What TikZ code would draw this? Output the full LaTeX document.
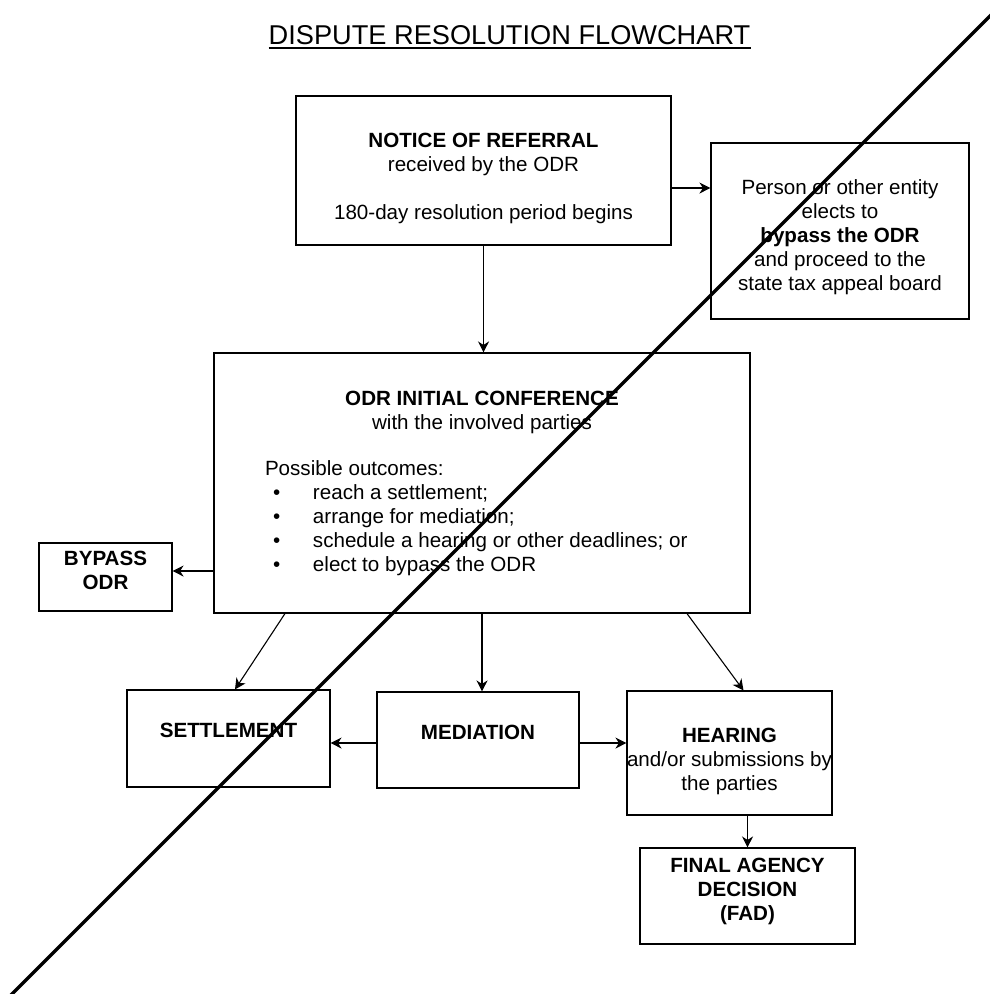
\documentclass[tikz,border=0pt]{standalone}
\usepackage{fontspec}
\setmainfont{Liberation Sans}
\usepackage{tikz}
\usetikzlibrary{arrows.meta,positioning}

\newcommand{\outcomeitem}{\makebox[48pt][l]{\hspace{8pt}\textbullet}}
\newcommand{\topgap}[1]{\rule{0pt}{#1}}
\newcommand{\bottomgap}[1]{\rule[-#1]{0pt}{0pt}}

\begin{document}
\begin{tikzpicture}[x=1pt,y=-1pt,
				>={Stealth[length=11pt,width=11pt,inset=3.5pt]},
				box/.style={draw,line width=1.1pt,align=center,inner sep=0pt,
					font=\fontsize{20.6pt}{24pt}\selectfont},
				link/.style={->,line width=1.1pt}]
				\useasboundingbox (0,0) rectangle (990,994);
				% title
				\node[inner sep=0pt,anchor=base,font=\fontsize{27.2pt}{30pt}\selectfont] (title) at (509.5,44) {DISPUTE RESOLUTION FLOWCHART};
				\draw[line width=1.6pt] ([yshift=-4pt]title.base west) -- ([yshift=-4pt]title.base east);
				% boxes
				\node[box,minimum width=375pt,minimum height=149pt] (notice) at (483.5,170.5)
					{\topgap{30.5pt}\textbf{NOTICE OF REFERRAL}\\received by the ODR\\[24pt]180-day resolution period begins};
				\node[box,minimum width=258pt,minimum height=176pt] (elect) at (840,231)
					{\topgap{27pt}Person or other entity\\elects to\\\textbf{bypass the ODR}\\and proceed to the\\state tax appeal board};
				\node[box,minimum width=536pt,minimum height=260pt] (conf) at (482,483)
					{\textbf{ODR INITIAL CONFERENCE}\\with the involved parties\\[22pt]
					\parbox[t]{434pt}{Possible outcomes:\\
						\outcomeitem reach a settlement;\\
						\outcomeitem arrange for mediation;\\
						\outcomeitem schedule a hearing or other deadlines; or\\
						\outcomeitem elect to bypass the ODR}};
				\node[box,minimum width=133pt,minimum height=68pt] (bypass) at (105.5,577)
					{\textbf{BYPASS}\\\textbf{ODR}\bottomgap{14pt}};
				\node[box,minimum width=203pt,minimum height=97pt,text depth=16pt] (settle) at (228.5,738.5)
					{\textbf{SETTLEMENT}};
				\node[box,minimum width=202pt,minimum height=96pt,text depth=16pt] (mediate) at (478,740)
					{\textbf{MEDIATION}};
				\node[box,minimum width=205pt,minimum height=124pt] (hearing) at (729.5,753)
					{\topgap{30.5pt}\textbf{HEARING}\\and/or submissions by\\the parties};
				\node[box,minimum width=215pt,minimum height=96pt] (fad) at (747.5,896)
					{\textbf{FINAL AGENCY}\\\textbf{DECISION}\\\textbf{(FAD)}\bottomgap{12.5pt}};
				% connectors
				\draw[link] ([yshift=-17.5pt]notice.east) -- ([yshift=-17.5pt]notice.east -| elect.west);
				\draw[link] (notice.south) -- (notice.south |- conf.north);
				\draw[link] ([yshift=-88pt]conf.west) -- ([yshift=-88pt]conf.west -| bypass.east);
				\draw[link] ([xshift=-197pt]conf.south) -- ([xshift=6.5pt]settle.north);
				\draw[link] (conf.south) -- (conf.south |- mediate.north);
				\draw[link] ([xshift=205pt]conf.south) -- ([xshift=14pt]hearing.north);
				\draw[link] ([yshift=-3pt]mediate.west) -- ([yshift=-3pt]mediate.west -| settle.east);
				\draw[link] ([yshift=-3pt]mediate.east) -- ([yshift=-3pt]mediate.east -| hearing.west);
				\draw[link] ([xshift=18pt]hearing.south) -- (fad.north);
				% strike-through
				\draw[line width=3.4pt] (994,12) -- (8,998);
\end{tikzpicture}
\end{document}
